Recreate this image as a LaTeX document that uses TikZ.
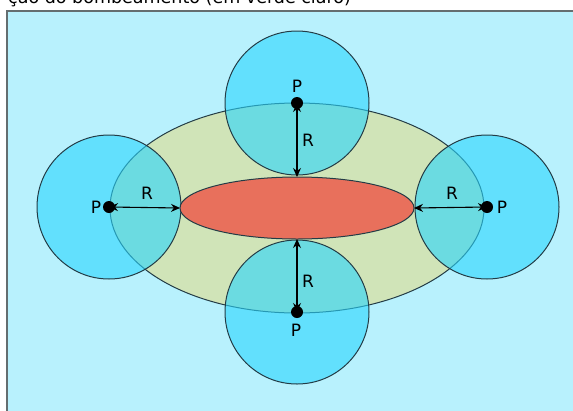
\documentclass[tikz,border=0pt]{standalone}
\usepackage{fontspec}
\setmainfont{DejaVu Sans}
\usetikzlibrary{shapes.geometric,arrows.meta}
\definecolor{bgc}{RGB}{184,241,253}
\definecolor{framec}{RGB}{100,110,112}
\definecolor{greenc}{RGB}{208,228,184}
\definecolor{circc}{RGB}{41,214,253}
\definecolor{redc}{RGB}{232,112,92}
\definecolor{edgec}{RGB}{35,60,70}
\tikzset{
  zone/.style={ellipse, draw=edgec, line width=1pt, fill=greenc, inner sep=0pt, outer sep=0pt},
  core/.style={ellipse, draw=edgec, line width=1pt, fill=redc, inner sep=0pt, outer sep=0pt},
  well/.style={circle, draw=edgec, line width=1pt, fill=circc, fill opacity=0.6, draw opacity=1, inner sep=0pt, outer sep=0pt, minimum size=144pt},
  pdot/.style={circle, fill=black, inner sep=0pt, minimum size=12pt},
  lbl/.style={font=\fontsize{17}{19}\selectfont, inner sep=0pt},
  arr/.style={{Stealth[length=9pt,width=8pt]}-{Stealth[length=9pt,width=8pt]}, line width=1.1pt, black},
}
\begin{document}
\begin{tikzpicture}[x=1pt,y=-1pt]
\useasboundingbox (0,0) rectangle (573,410);
\clip (0,0) rectangle (573,410);
\fill[white] (0,0) rectangle (573,410);
\node[font=\fontsize{17.5}{19}\selectfont, inner sep=0pt, anchor=base west] (title) at (8,3) {ção do bombeamento (em verde claro)};
\draw[fill=bgc, draw=framec, line width=2pt] (7,11) rectangle (590,430);
\node[zone, minimum width=374pt, minimum height=210pt] (zone) at (297,208) {};
\node[well] (wt) at (297,103) {};
\node[well] (wb) at (297,312) {};
\node[well] (wl) at (109,207) {};
\node[well] (wr) at (487,207) {};
\node[core, minimum width=234pt, minimum height=62pt] (core) at (297,208) {};
\node[pdot] (pt) at (297,103) {};
\node[pdot] (pb) at (297,312) {};
\node[pdot] (pl) at (109,207) {};
\node[pdot] (pr) at (487,207) {};
\draw[arr] (pt.center) -- (core.north);
\draw[arr] (pb.center) -- (core.south);
\draw[arr] (pl.center) -- (core.west);
\draw[arr] (pr.center) -- (core.east);
\node[lbl] (lpt) at (297,86) {P};
\node[lbl] (lpb) at (296,330) {P};
\node[lbl] (lpl) at (96,207) {P};
\node[lbl] (lpr) at (502,207) {P};
\node[lbl] (lrt) at (308,140) {R};
\node[lbl] (lrb) at (308,281) {R};
\node[lbl] (lrl) at (147,193) {R};
\node[lbl] (lrr) at (452,193) {R};
\end{tikzpicture}
\end{document}
